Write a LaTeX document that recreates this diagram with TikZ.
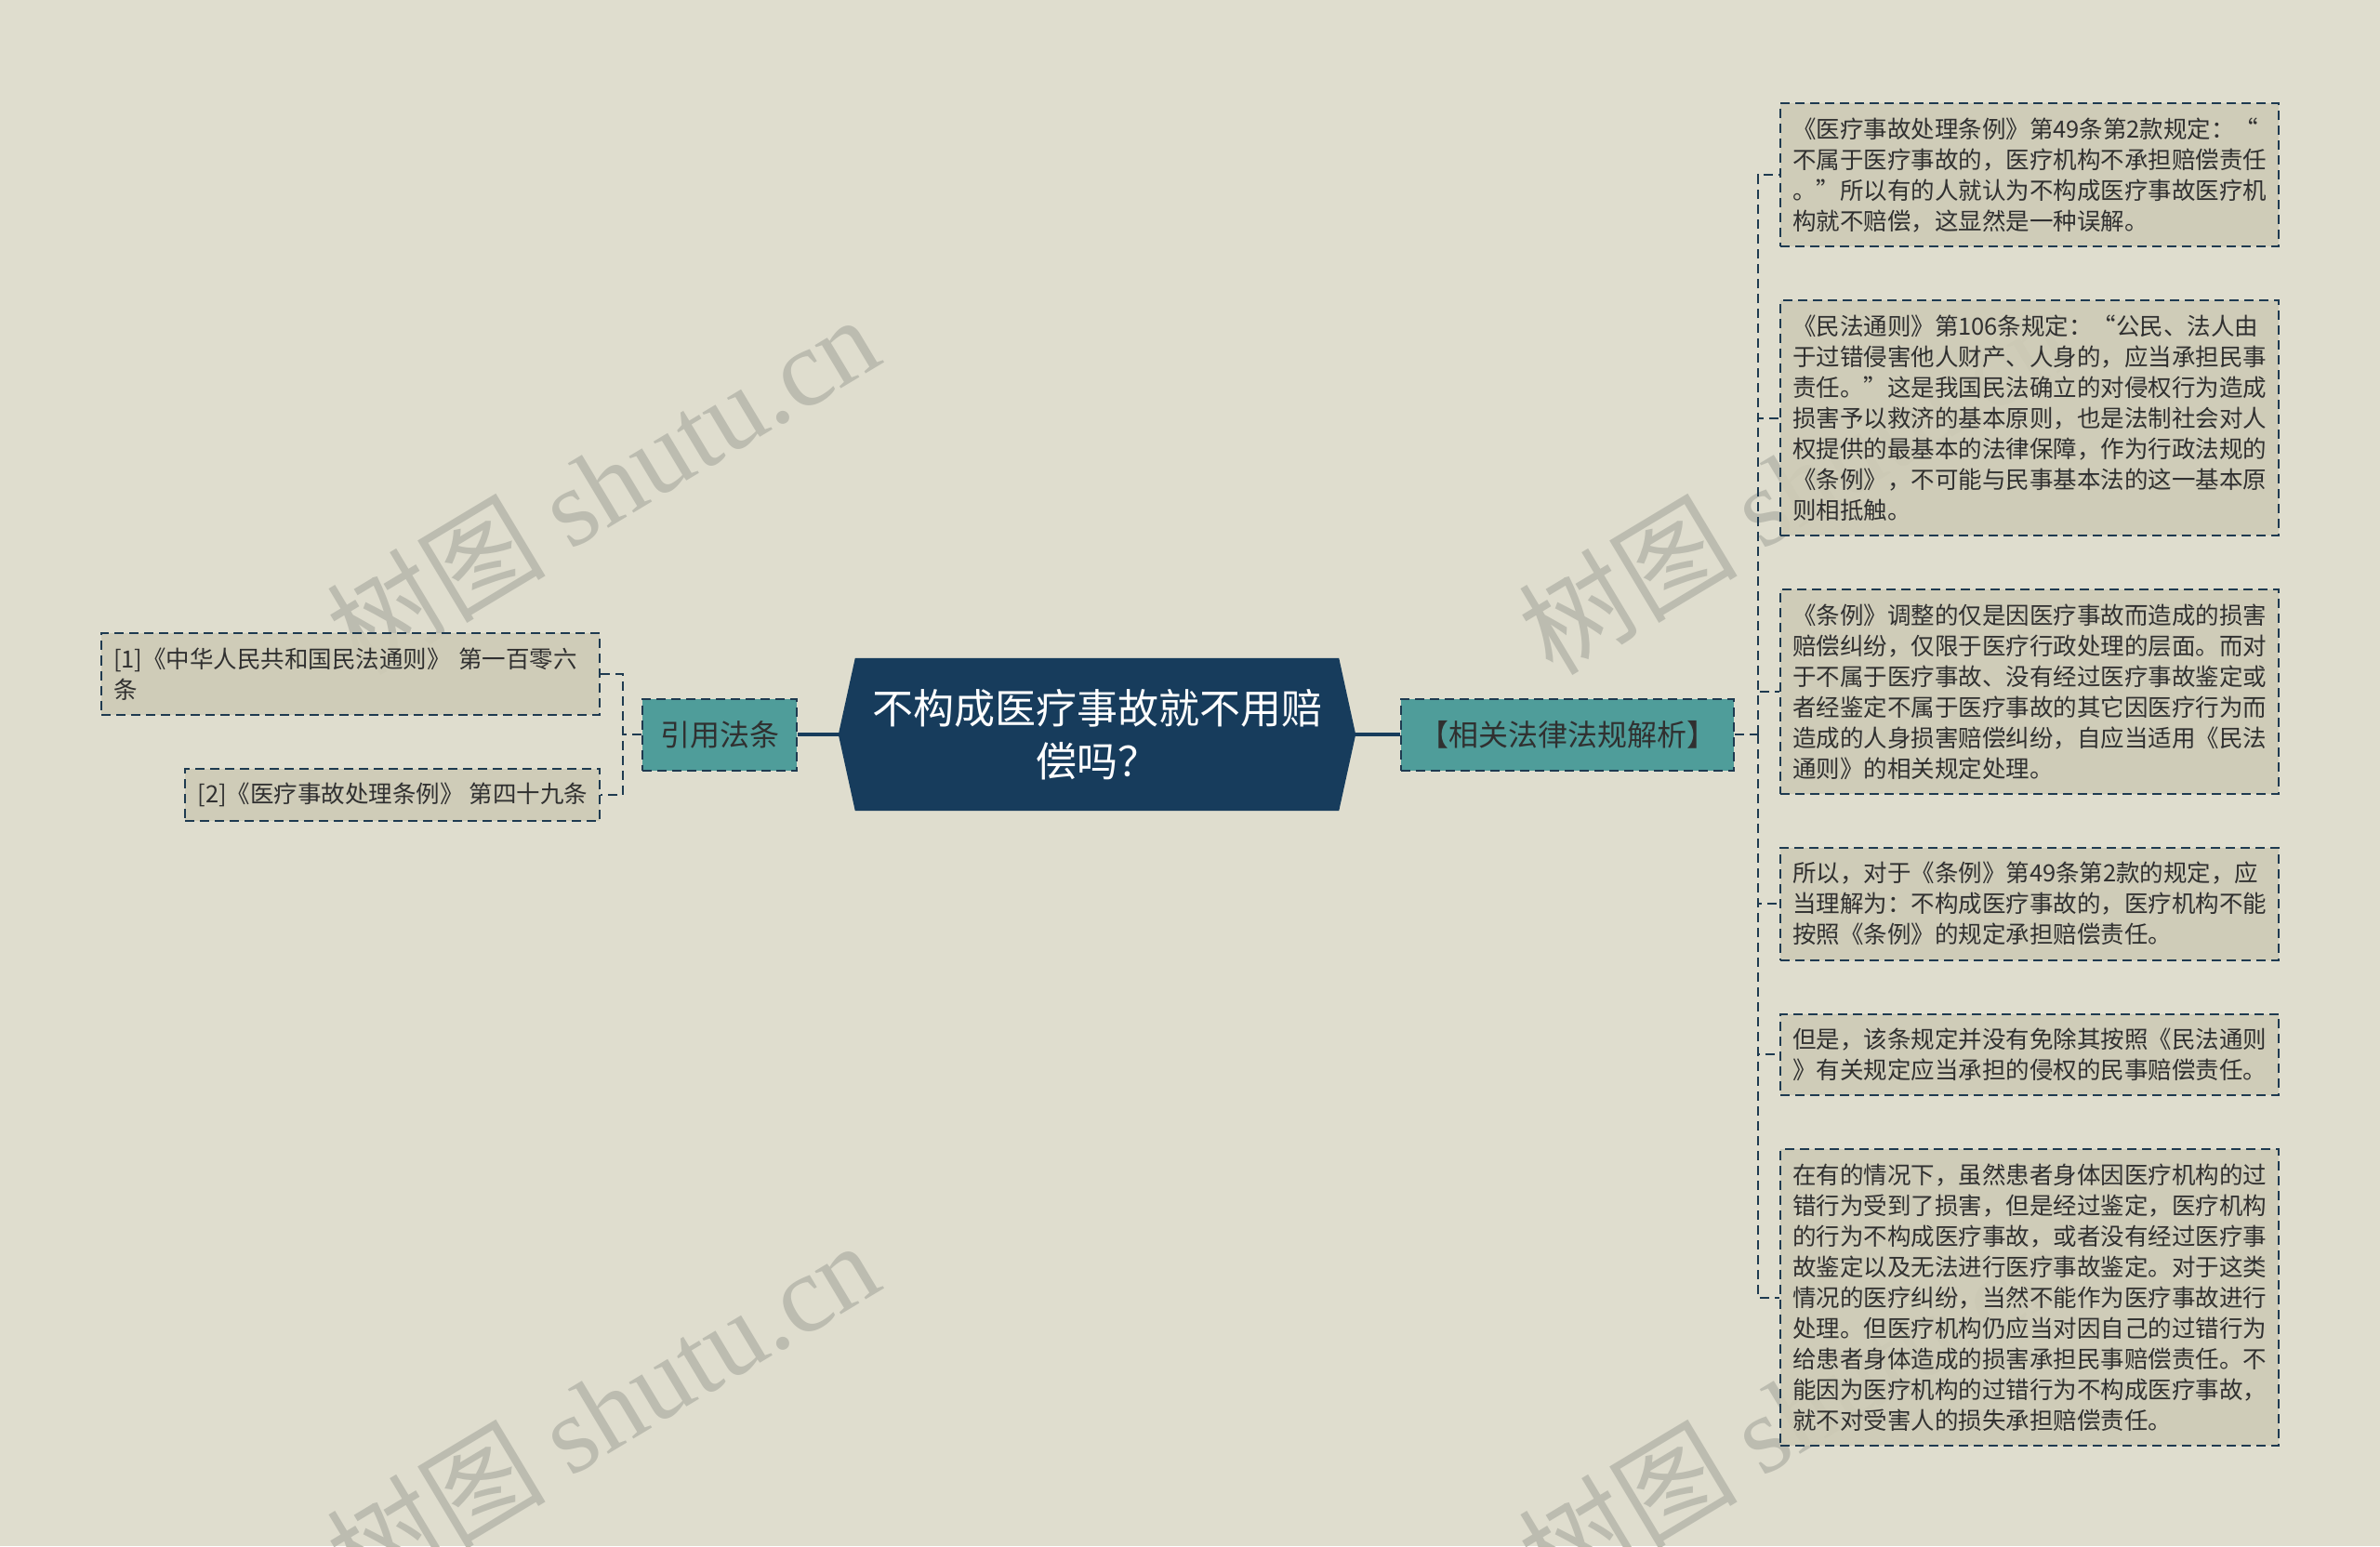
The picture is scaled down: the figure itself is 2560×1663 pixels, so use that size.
\documentclass[tikz,border=0pt]{standalone}
\usepackage{fontspec}
\setmainfont{Noto Sans CJK SC}
\newfontfamily\wmlatin{Liberation Serif}
\usetikzlibrary{positioning,backgrounds}

\definecolor{paper}{HTML}{DFDDCE}
\definecolor{leaffill}{HTML}{CECBB6}
\definecolor{tealfill}{HTML}{4F9D9A}
\definecolor{navy}{HTML}{173C5C}
\definecolor{dashcol}{HTML}{1E3A50}
\definecolor{inkgray}{HTML}{303030}
\definecolor{wmgray}{HTML}{BCBCB0}

\begin{document}
\begin{tikzpicture}[x=1pt, y=-1pt,
    wmark/.style={text=wmgray, rotate=31, font=\fontsize{118}{120}\selectfont},
    leaf/.style={draw=dashcol, line width=2pt, dash pattern=on 10pt off 6pt,
        fill=leaffill, fill opacity=0.9, text opacity=1, text=inkgray, align=left,
        inner xsep=13pt, inner ysep=15.5pt, font=\fontsize{25.5}{33}\selectfont},
    hub/.style={draw=dashcol, line width=2pt, dash pattern=on 10pt off 6pt,
        fill=tealfill, text=inkgray, minimum height=77pt, inner xsep=19pt,
        font=\fontsize{32}{36}\selectfont},
    branch/.style={draw=dashcol, line width=2pt, dash pattern=on 10pt off 6pt},
    trunk/.style={draw=navy, line width=3.5pt}]

    % the frame
    \useasboundingbox (0,0) rectangle (2560,1663);
    \clip (0,0) rectangle (2560,1663);
    \begin{pgfonlayer}{background}
        \fill[paper] (0,0) rectangle (2560,1663);
    \end{pgfonlayer}

    % watermarks
    \node[wmark] (wm1) at (648,520) {树图 {\wmlatin shutu.cn}};
    \node[wmark] (wm2) at (648,1516) {树图 {\wmlatin shutu.cn}};
    \node[wmark] (wm3) at (1930,520) {树图 {\wmlatin shutu.cn}};
    \node[wmark] (wm4) at (1930,1516) {树图 {\wmlatin shutu.cn}};

    % the root
    \node[text=white, align=center, minimum width=556pt, minimum height=164pt,
        font=\fontsize{44}{57}\selectfont] (root) at (1180,790)
        {不构成医疗事故就不用赔\\偿吗？};
    \begin{pgfonlayer}{background}
        \fill[navy] (root.west) -- ([xshift=18pt]root.north west) -- ([xshift=-18pt]root.north east)
            -- (root.east) -- ([xshift=-18pt]root.south east) -- ([xshift=18pt]root.south west) -- cycle;
    \end{pgfonlayer}

    % the two branches
    \node[hub] (cite) at (774,790) {引用法条};
    \node[hub] (analysis) at (1686,790) {【相关法律法规解析】};

    % left leaves
    \node[leaf, text width=510pt, anchor=north east] (ref1) at (646,680)
        {[1]《中华人民共和国民法通则》 第一百零六\\条};
    \node[leaf, below=56pt of ref1.south east, anchor=north east] (ref2)
        {[2]《医疗事故处理条例》 第四十九条};

    % right leaves
    \node[leaf, text width=510pt, anchor=north west] (r1) at (1914,110)
        {《医疗事故处理条例》第49条第2款规定：“\\
        不属于医疗事故的，医疗机构不承担赔偿责任\\
        。”所以有的人就认为不构成医疗事故医疗机\\
        构就不赔偿，这显然是一种误解。};
    \node[leaf, text width=510pt, below=56pt of r1] (r2)
        {《民法通则》第106条规定：“公民、法人由\\
        于过错侵害他人财产、人身的，应当承担民事\\
        责任。”这是我国民法确立的对侵权行为造成\\
        损害予以救济的基本原则，也是法制社会对人\\
        权提供的最基本的法律保障，作为行政法规的\\
        《条例》，不可能与民事基本法的这一基本原\\
        则相抵触。};
    \node[leaf, text width=510pt, below=56pt of r2] (r3)
        {《条例》调整的仅是因医疗事故而造成的损害\\
        赔偿纠纷，仅限于医疗行政处理的层面。而对\\
        于不属于医疗事故、没有经过医疗事故鉴定或\\
        者经鉴定不属于医疗事故的其它因医疗行为而\\
        造成的人身损害赔偿纠纷，自应当适用《民法\\
        通则》的相关规定处理。};
    \node[leaf, text width=510pt, below=56pt of r3] (r4)
        {所以，对于《条例》第49条第2款的规定，应\\
        当理解为：不构成医疗事故的，医疗机构不能\\
        按照《条例》的规定承担赔偿责任。};
    \node[leaf, text width=510pt, below=56pt of r4] (r5)
        {但是，该条规定并没有免除其按照《民法通则\\
        》有关规定应当承担的侵权的民事赔偿责任。};
    \node[leaf, text width=510pt, below=56pt of r5] (r6)
        {在有的情况下，虽然患者身体因医疗机构的过\\
        错行为受到了损害，但是经过鉴定，医疗机构\\
        的行为不构成医疗事故，或者没有经过医疗事\\
        故鉴定以及无法进行医疗事故鉴定。对于这类\\
        情况的医疗纠纷，当然不能作为医疗事故进行\\
        处理。但医疗机构仍应当对因自己的过错行为\\
        给患者身体造成的损害承担民事赔偿责任。不\\
        能因为医疗机构的过错行为不构成医疗事故，\\
        就不对受害人的损失承担赔偿责任。};

    % connectors
    \coordinate (lhub) at (670,790);
    \coordinate (rhub) at (1891,790);
    \draw[trunk] (cite) -- (root);
    \draw[trunk] (root) -- (analysis);
    \draw[branch] (cite.west) -- (lhub);
    \draw[branch] (ref1.east) -| (lhub) |- (ref2.east);
    \draw[branch] (analysis.east) -- (rhub);
    \foreach \i in {1,...,6} {
        \draw[branch] (rhub) |- (r\i.west);
    };

\end{tikzpicture}
\end{document}
